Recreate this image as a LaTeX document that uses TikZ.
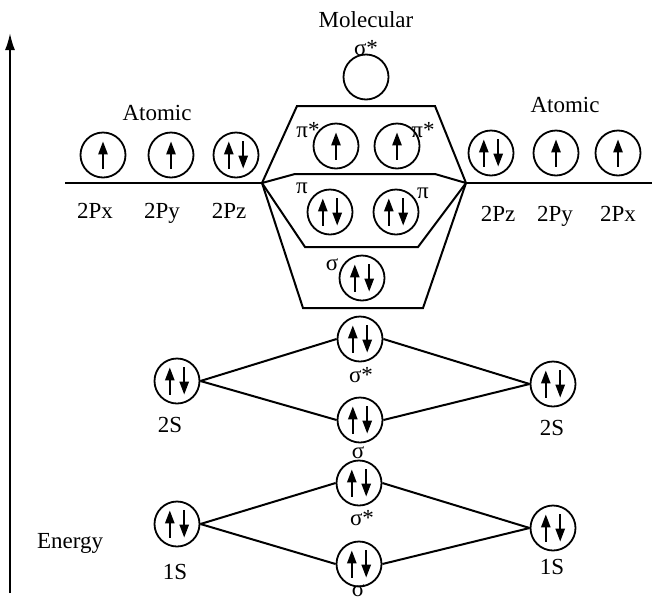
\documentclass[tikz,border=0pt]{standalone}
\usepackage{fontspec}
\setmainfont{Liberation Serif}
\usetikzlibrary{arrows.meta,positioning}
\tikzset{
  orb/.style={draw,circle,minimum size=22.5pt,inner sep=0pt,line width=0.9pt},
  spin/.style={line width=1pt,-{Triangle[length=6.5pt,width=4.6pt]}},
  single/.style={orb,path picture={
    \draw[spin] ([yshift=-6.8pt]path picture bounding box.center) -- ++(0,13.6pt);}},
  paired/.style={orb,path picture={
    \draw[spin] ([xshift=-3.6pt,yshift=-6.8pt]path picture bounding box.center) -- ++(0,13.6pt);
    \draw[spin] ([xshift=3.6pt,yshift=6.8pt]path picture bounding box.center) -- ++(0,-13.6pt);}},
  lbl/.style={font=\fontsize{11.5}{13}\selectfont,inner sep=1pt},
  lvl/.style={line width=1pt}
}
\begin{document}
\begin{tikzpicture}[x=0.5pt,y=-0.5pt]
\useasboundingbox (0,0) rectangle (652,600);
% energy axis
\coordinate (e0) at (10,593);
\coordinate (e1) at (10,33);
\draw[lvl,-{Latex[length=8.5pt,width=5pt]}] (e0) -- (e1);
\node[lbl] (energy) at (70,543) {Energy};

% atomic 2p levels
\node[lbl] (atL) at (157,113) {Atomic};
\node[lbl] (atR) at (565,105) {Atomic};
\foreach \x/\lx/\s/\n in {103/95/single/x,171/162/single/y,236/229/paired/z}{
  \node[\s] (pL\n) at (\x,155) {};
  \node[lbl,anchor=base] (tL\n) at (\lx,218) {2P\n};
}
\foreach \x/\lx/\s/\n in {491/498/paired/z,556/555/single/y,618/618/single/x}{
  \node[\s] (pR\n) at (\x,153) {};
  \node[lbl,anchor=base] (tR\n) at (\lx,221) {2P\n};
}
\coordinate (lL) at (65,183);
\coordinate (vL) at (262,183);
\coordinate (vR) at (466,183);
\coordinate (lR) at (652,183);
\draw[lvl] (lL) -- (vL) (vR) -- (lR);

% molecular 2p levels
\node[lbl] (mol) at (366,20) {Molecular};
\node[orb] (sgs) at (366,77) {};
\node[lbl] (tsgs) at (366,48) {σ*};
\node[single] (pisa) at (336,146) {};
\node[single] (pisb) at (397,146) {};
\node[lbl] (tpisa) at (308,130) {π*};
\node[lbl] (tpisb) at (423,130) {π*};
\node[paired] (pia) at (330,212) {};
\node[paired] (pib) at (396,212) {};
\node[lbl] (tpia) at (302,188) {π};
\node[lbl] (tpib) at (423,193) {π};
\node[paired] (sg) at (362,278) {};
\node[lbl] (tsg) at (332,265) {σ};
\draw[lvl] (vL) -- (297,106) -- (435,106) -- (vR);
\draw[lvl] (vL) -- (295,174) -- (435,174) -- (vR);
\draw[lvl] (vL) -- (305,247) -- (418,247) -- (vR);
\draw[lvl] (vL) -- (303,308) -- (423,308) -- (vR);

% 2s
\node[paired] (s2L) at (177,381) {};
\node[paired] (s2R) at (553,384) {};
\node[paired] (s2a) at (360,339) {};
\node[paired] (s2b) at (360,420) {};
\node[lbl] (ts2L) at (170,425) {2S};
\node[lbl] (ts2R) at (552,428) {2S};
\node[lbl] (ts2a) at (361,375) {σ*};
\node[lbl] (ts2b) at (358,453) {σ};
\draw[lvl] (s2L.east) -- (s2a.west) (s2L.east) -- (s2b.west)
           (s2R.west) -- (s2a.east) (s2R.west) -- (s2b.east);

% 1s
\node[paired] (s1L) at (177,524) {};
\node[paired] (s1R) at (553,528) {};
\node[paired] (s1a) at (359,483) {};
\node[paired] (s1b) at (359,564) {};
\node[lbl] (ts1L) at (175,572) {1S};
\node[lbl] (ts1R) at (552,567) {1S};
\node[lbl] (ts1a) at (362,518) {σ*};
\node[lbl] (ts1b) at (358,591) {σ};
\draw[lvl] (s1L.east) -- (s1a.west) (s1L.east) -- (s1b.west)
           (s1R.west) -- (s1a.east) (s1R.west) -- (s1b.east);
\end{tikzpicture}
\end{document}
